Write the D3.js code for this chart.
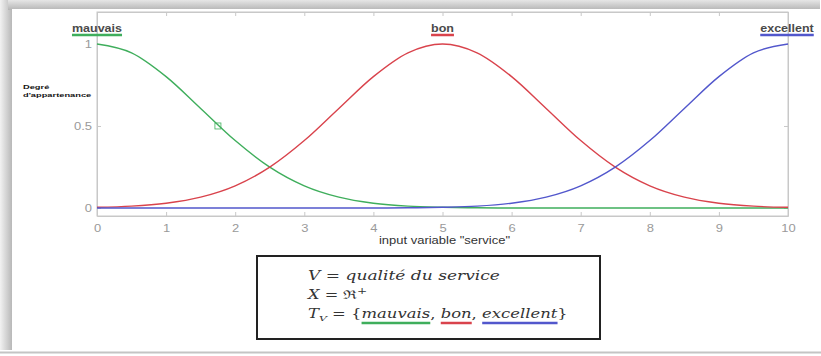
<!DOCTYPE html>
<html>
<head>
<meta charset="utf-8">
<script src="https://cdn.jsdelivr.net/npm/d3@7"></script>
<style>
  html, body { margin: 0; padding: 0; background: #fff; }
  svg { display: block; }
</style>
</head>
<body>
<svg id="chart" width="821" height="356"></svg>
<script>
// Input universe samples (service score)
const xs = [0, 0.5, 1, 1.5, 2, 2.5, 3, 3.5, 4, 4.5, 5, 5.5, 6, 6.5, 7, 7.5, 8, 8.5, 9, 9.5, 10];
// Membership degrees of each linguistic term
const mauvais   = [1, 0.946, 0.801, 0.607, 0.411, 0.249, 0.135, 0.066, 0.029, 0.011, 0.004, 0.001, 0, 0, 0, 0, 0, 0, 0, 0, 0];
const bon       = [0.004, 0.011, 0.029, 0.066, 0.135, 0.249, 0.411, 0.607, 0.801, 0.946, 1, 0.946, 0.801, 0.607, 0.411, 0.249, 0.135, 0.066, 0.029, 0.011, 0.004];
const excellent = [0, 0, 0, 0, 0, 0, 0, 0, 0, 0.001, 0.004, 0.011, 0.029, 0.066, 0.135, 0.249, 0.411, 0.607, 0.801, 0.946, 1];
const termNames  = ["mauvais", "bon", "excellent"];
const termPeaks  = [0, 5, 10];
const termColors = ["#3fae5c", "#d9434c", "#5257cc"];
const xTicks = [0, 1, 2, 3, 4, 5, 6, 7, 8, 9, 10];
const yTicks = [0, 0.5, 1];
const marker = { x: 1.75, y: 0.5 };

const svg = d3.select("#chart");

// Widen a group horizontally around a fixed x so the text reads wide
function stretchX(group, anchorX, factor) {
  group.attr("transform", `translate(${anchorX},0) scale(${factor},1) translate(${-anchorX},0)`);
}

// Panel with soft shadow on the left and top
const defs = svg.append("defs");
const gL = defs.append("linearGradient").attr("id", "shL").attr("x1", 0).attr("x2", 1).attr("y1", 0).attr("y2", 0);
gL.append("stop").attr("offset", 0).attr("stop-color", "#f2f2f2");
gL.append("stop").attr("offset", 1).attr("stop-color", "#b8b8b8");
const gT = defs.append("linearGradient").attr("id", "shT").attr("x1", 0).attr("x2", 0).attr("y1", 0).attr("y2", 1);
gT.append("stop").attr("offset", 0).attr("stop-color", "#e6e6e6");
gT.append("stop").attr("offset", 1).attr("stop-color", "#b5b5b5");
svg.append("rect").attr("x", 0).attr("y", 0).attr("width", 12).attr("height", 350).attr("fill", "url(#shL)");
svg.append("rect").attr("x", 8).attr("y", 0).attr("width", 812).attr("height", 10).attr("fill", "url(#shT)");
svg.append("rect").attr("x", 12).attr("y", 9).attr("width", 809).attr("height", 342).attr("fill", "#fff");
svg.append("line").attr("x1", 0).attr("x2", 821).attr("y1", 352.5).attr("y2", 352.5)
  .attr("stroke", "#c4c4c4").attr("stroke-width", 2);

// Plot geometry
const plotLeft = 97, plotRight = 788, plotTop = 12, plotBottom = 216;
const x = d3.scaleLinear().domain([0, 10]).range([plotLeft, plotRight]);
const y = d3.scaleLinear().domain([-0.049, 1.195]).range([plotBottom, plotTop]);

const frameColor = "#c8c8c8";
const sans = "'Liberation Sans', Arial, sans-serif";
const g = svg.append("g");

// Frame
g.append("rect").attr("x", plotLeft).attr("y", plotTop).attr("width", plotRight - plotLeft).attr("height", plotBottom - plotTop)
  .attr("fill", "none").attr("stroke", frameColor).attr("stroke-width", 1);

// Bottom axis
const xAxis = g.append("g").attr("transform", `translate(0,${plotBottom})`)
  .call(d3.axisBottom(x).tickValues(xTicks).tickSizeInner(-4).tickSizeOuter(0).tickPadding(9).tickFormat(d3.format("d")));
xAxis.select(".domain").attr("stroke", frameColor);
xAxis.selectAll(".tick line").attr("stroke", frameColor);
xAxis.selectAll("text").attr("fill", "#9a9a9a").style("font", `10px ${sans}`)
  .attr("transform", "scale(1.3,1)");

// Top ticks
const xTop = g.append("g").attr("transform", `translate(0,${plotTop})`)
  .call(d3.axisTop(x).tickValues(xTicks).tickSizeInner(-4).tickSizeOuter(0).tickFormat(""));
xTop.select(".domain").attr("stroke", frameColor);
xTop.selectAll(".tick line").attr("stroke", frameColor);

// Left axis
const yAxis = g.append("g").attr("transform", `translate(${plotLeft},0)`)
  .call(d3.axisLeft(y).tickValues(yTicks).tickSizeInner(-4).tickSizeOuter(0).tickPadding(0).tickFormat(d => d === 0.5 ? "0.5" : d3.format("d")(d)));
yAxis.select(".domain").attr("stroke", frameColor);
yAxis.selectAll(".tick line").attr("stroke", frameColor);
yAxis.selectAll("text").attr("fill", "#9a9a9a").style("font", `10px ${sans}`)
  .attr("x", 0).attr("transform", "translate(-5,0) scale(1.3,1)");

// Right ticks
const yRight = g.append("g").attr("transform", `translate(${plotRight},0)`)
  .call(d3.axisRight(y).tickValues(yTicks).tickSizeInner(-4).tickSizeOuter(0).tickFormat(""));
yRight.select(".domain").attr("stroke", frameColor);
yRight.selectAll(".tick line").attr("stroke", frameColor);

// Membership curves
const series = [mauvais, bon, excellent];
const line = d3.line().x((d, i) => x(xs[i])).y(d => y(d)).curve(d3.curveMonotoneX);
series.forEach((vals, k) => {
  g.append("path").datum(vals).attr("d", line)
    .attr("fill", "none").attr("stroke", termColors[k]).attr("stroke-width", 1.4);
});

// Selection marker on the first curve
g.append("rect").attr("x", x(marker.x) - 3).attr("y", y(marker.y) - 3).attr("width", 6).attr("height", 6)
  .attr("fill", "none").attr("stroke", termColors[0]).attr("stroke-width", 0.8);

// Term labels above each peak
termNames.forEach((name, k) => {
  const cx = x(termPeaks[k]) + (k === 2 ? -1 : 0);
  const lg = g.append("g");
  const t = lg.append("text").attr("x", cx).attr("y", 32).attr("text-anchor", "middle")
    .attr("fill", "#4a4a4a").style("font", `bold 10px ${sans}`).text(name);
  const w = t.node().getComputedTextLength();
  lg.append("line").attr("x1", cx - w / 2).attr("x2", cx + w / 2)
    .attr("y1", 35).attr("y2", 35).attr("stroke", termColors[k]).attr("stroke-width", 2.5);
  stretchX(lg, cx, 1.25);
});

// Axis titles
const xt = g.append("g");
xt.append("text").attr("x", x(5) + 2).attr("y", 244).attr("text-anchor", "middle")
  .attr("fill", "#333").style("font", `10px ${sans}`).text('input variable "service"');
stretchX(xt, x(5) + 2, 1.3);

const yt = g.append("g");
yt.append("text").attr("x", 23).attr("y", 89).attr("fill", "#111")
  .style("font", `bold 6px ${sans}`).text("Degré");
yt.append("text").attr("x", 23).attr("y", 97).attr("fill", "#111")
  .style("font", `bold 6px ${sans}`).text("d'appartenance");
stretchX(yt, 23, 1.55);

// Definition box
const box = svg.append("g");
box.append("rect").attr("x", 257).attr("y", 256).attr("width", 343).attr("height", 83)
  .attr("fill", "#fff").attr("stroke", "#222").attr("stroke-width", 2);

const serif = "'DejaVu Serif', 'Liberation Serif', serif";
const boxLeft = 308;
const row = () => box.append("g");
const txt = (grp, yy) => grp.append("text").attr("x", boxLeft).attr("y", yy).attr("fill", "#333")
  .style("font-family", serif).style("font-size", "12px");

const r1 = row();
const l1 = txt(r1, 280);
l1.append("tspan").style("font-style", "italic").text("V");
l1.append("tspan").text(" = ");
l1.append("tspan").style("font-style", "italic").text("qualité du service");
stretchX(r1, boxLeft, 192 / l1.node().getComputedTextLength());

const r2 = row();
const l2 = txt(r2, 299);
l2.append("tspan").style("font-style", "italic").text("X");
l2.append("tspan").text(" = ℜ");
l2.append("tspan").attr("dy", -5).style("font-size", "9px").text("+");
stretchX(r2, boxLeft, 1.35);

const r3 = row();
const l3 = txt(r3, 318);
l3.append("tspan").style("font-style", "italic").text("T");
l3.append("tspan").attr("dy", 3).style("font-size", "8px").style("font-style", "italic").text("V");
l3.append("tspan").attr("dy", -3).text(" = {");
const parts = [];
termNames.forEach((name, k) => {
  parts.push(l3.append("tspan").style("font-style", "italic").text(name));
  if (k < termNames.length - 1) l3.append("tspan").text(", ");
});
l3.append("tspan").text("}");

parts.forEach((p, k) => {
  const n = p.node();
  const start = n.getStartPositionOfChar(0).x;
  const w = n.getComputedTextLength();
  r3.append("line").attr("x1", start).attr("x2", start + w).attr("y1", 323).attr("y2", 323)
    .attr("stroke", termColors[k]).attr("stroke-width", 2.5);
});
stretchX(r3, boxLeft, 260 / l3.node().getComputedTextLength());
</script>
</body>
</html>
